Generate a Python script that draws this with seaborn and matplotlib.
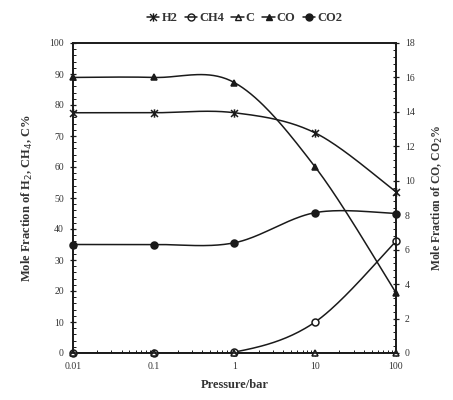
import numpy as np
import pandas as pd
import matplotlib
matplotlib.use("Agg")
import matplotlib.pyplot as plt
from matplotlib.path import Path
from matplotlib.lines import Line2D
from matplotlib.ticker import MultipleLocator, LogLocator, FixedLocator, NullFormatter
import seaborn as sns

# ---- data ----
pressure = [0.01, 0.1, 1, 10, 100]
pressure_labels = ["0.01", "0.1", "1", "10", "100"]
h2 = [77.5, 77.5, 77.5, 71.0, 52.0]     # left axis
ch4 = [0.0, 0.0, 0.3, 10.0, 36.0]       # left axis
c = [0.0, 0.0, 0.0, 0.0, 0.0]           # left axis
co = [16.0, 16.0, 15.7, 10.8, 3.5]      # right axis
co2 = [6.3, 6.3, 6.4, 8.15, 8.1]        # right axis

sns.set_theme(style="white")
plt.rcParams["font.family"] = ["Liberation Serif", "DejaVu Serif"]


def smooth(xs, ys, n=40):
    """Catmull-Rom style smoothing (as in spreadsheet 'smoothed line') in log-x."""
    lx = np.log10(np.asarray(xs, float))
    y = np.asarray(ys, float)
    P = np.column_stack([lx, y])
    P = np.vstack([P[0], P, P[-1]])
    out = []
    for i in range(1, len(P) - 2):
        p0, p1, p2, p3 = P[i - 1], P[i], P[i + 1], P[i + 2]
        t = np.linspace(0, 1, n)[:, None]
        seg = 0.5 * ((2 * p1) + (-p0 + p2) * t + (2 * p0 - 5 * p1 + 4 * p2 - p3) * t ** 2
                     + (-p0 + 3 * p1 - 3 * p2 + p3) * t ** 3)
        out.append(seg if i == len(P) - 3 else seg[:-1])
    S = np.vstack(out)
    return pd.DataFrame({"x": 10 ** S[:, 0], "y": S[:, 1]})


star = Path([(-1, -1), (1, 1), (-1, 1), (1, -1), (0, -1.2), (0, 1.2)],
            [Path.MOVETO, Path.LINETO, Path.MOVETO, Path.LINETO, Path.MOVETO, Path.LINETO])

fig = plt.figure(figsize=(4.53, 4.0), dpi=100)
ax = fig.add_axes([0.161, 0.1175, 0.713, 0.775])
ax2 = ax.twinx()

lc = "#1a1a1a"
series_left = [(h2, star, "none", "H2", 6), (ch4, "o", "none", "CH4", 5), (c, "^", "none", "C", 5)]
series_right = [(co, "^", lc, "CO", 5), (co2, "o", lc, "CO2", 5)]

for ys, mk, fc, name, ms in series_left:
    d = smooth(pressure, ys)
    sns.lineplot(data=d, x="x", y="y", ax=ax, color=lc, lw=1.1, sort=False, estimator=None)
    ax.plot(pressure, ys, linestyle="none", marker=mk, ms=ms, mfc=fc if fc != "none" else "white",
            mec=lc, mew=1.1, color=lc, clip_on=False, zorder=5)
for ys, mk, fc, name, ms in series_right:
    d = smooth(pressure, ys)
    sns.lineplot(data=d, x="x", y="y", ax=ax2, color=lc, lw=1.1, sort=False, estimator=None)
    ax2.plot(pressure, ys, linestyle="none", marker=mk, ms=ms, mfc=fc, mec=lc, mew=1.1,
             color=lc, clip_on=False, zorder=5)

ax.set_xscale("log")
ax.set_xlim(0.01, 100)
ax.set_ylim(0, 100)
ax2.set_ylim(0, 18)
ax.xaxis.set_major_locator(FixedLocator(pressure))
ax.set_xticklabels(pressure_labels)
ax.xaxis.set_minor_locator(LogLocator(base=10, subs=np.arange(2, 10)))
ax.xaxis.set_minor_formatter(NullFormatter())
ax.yaxis.set_major_locator(MultipleLocator(10))
ax.yaxis.set_minor_locator(MultipleLocator(2))
ax2.yaxis.set_major_locator(MultipleLocator(2))
ax2.yaxis.set_minor_locator(MultipleLocator(0.4))

for a in (ax, ax2):
    for s in a.spines.values():
        s.set_color(lc)
        s.set_linewidth(1.2)
    a.tick_params(which="major", direction="inout", length=5, width=0.9, color=lc,
                  labelsize=7, labelcolor="#333333", pad=4)
    a.tick_params(which="minor", direction="in", length=2.5, width=0.7, color=lc)
ax.tick_params(axis="y", which="both", left=True, right=False)
ax.tick_params(axis="x", which="both", bottom=True, top=False)
ax2.tick_params(axis="y", which="both", right=True, left=False)

ax.set_xlabel("Pressure/bar", fontsize=9, fontweight="bold", color="#333333", labelpad=6)
ax.set_ylabel("Mole Fraction of H$_2$, CH$_4$, C%", fontsize=9, fontweight="bold",
              color="#333333", labelpad=10)
ax2.set_ylabel("Mole Fraction of CO, CO$_2$%", fontsize=8.5, fontweight="bold",
               color="#333333", labelpad=11)
ax.grid(False)
ax2.grid(False)

handles = [
    Line2D([], [], color=lc, lw=1.1, marker=star, ms=6, mec=lc, mfc="none"),
    Line2D([], [], color=lc, lw=1.1, marker="o", ms=5, mec=lc, mfc="none"),
    Line2D([], [], color=lc, lw=1.1, marker="^", ms=5, mec=lc, mfc="none"),
    Line2D([], [], color=lc, lw=1.1, marker="^", ms=5, mec=lc, mfc=lc),
    Line2D([], [], color=lc, lw=1.1, marker="o", ms=5, mec=lc, mfc=lc),
]
fig.legend(handles, ["H2", "CH4", "C", "CO", "CO2"], loc="center", bbox_to_anchor=(0.54, 0.955),
           ncol=5, frameon=False, handlelength=1.0, handletextpad=0.15, columnspacing=0.6,
           prop={"size": 9, "weight": "bold"}, labelcolor="#333333")

fig.savefig("out.png", dpi=100)
